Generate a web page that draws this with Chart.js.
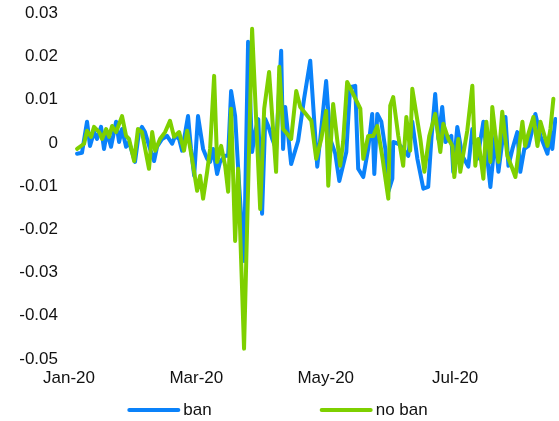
<!DOCTYPE html>
<html>
<head>
<meta charset="utf-8">
<script src="https://cdn.jsdelivr.net/npm/chart.js@4"></script>
<style>
  html, body { margin: 0; padding: 0; background: #fff; }
  #wrap { width: 559px; height: 421px; }
</style>
</head>
<body>
<div id="wrap"><canvas id="returns"></canvas></div>
<script>
// days since 1 Jan 2020
const banDays = [3.8, 6.1, 8.5, 9.9, 11.8, 13.2, 15.1, 16.5, 17.9, 19.8, 22.2, 23.6, 25.0, 26.9, 28.3, 31.1, 33.0, 34.4, 35.8, 38.2,
  40.1, 41.5, 43.9, 46.2, 48.6, 50.0, 51.9, 53.3, 56.1, 57.5, 59.0, 60.8, 63.2, 65.1, 66.5, 67.9, 69.8, 71.2, 73.6, 75.0,
  76.4, 78.3, 80.2, 82.5, 84.4, 86.3, 87.7, 89.2, 91.0, 92.5, 93.9, 95.8, 97.6, 100.0, 100.9, 101.9, 104.7, 108.0, 110.8, 113.7,
  117.0, 118.9, 121.2, 123.1, 125.5, 127.4, 130.7, 132.5, 134.9, 136.3, 138.7, 141.0, 142.9, 143.9, 145.3, 147.2, 149.1, 150.5, 152.4, 152.8,
  155.2, 157.5, 159.9, 161.8, 164.2, 167.0, 169.3, 170.8, 172.6, 174.1, 175.9, 177.4, 180.2, 181.1, 183.0, 185.4, 188.2, 190.1, 192.5, 195.3,
  198.6, 200.9, 202.4, 205.7, 207.1, 209.0, 211.3, 212.7, 214.6, 216.5, 217.9, 219.8, 222.2, 225.5, 226.9, 227.8, 229.2];
const banValues = [-0.0025, -0.0023, 0.0049, -0.0007, 0.0025, 0.0009, 0.0037, -0.0014, 0.0025, -0.0009, 0.0049, 0.0002, 0.0032, -0.0009, 0.0002, -0.0044, 0.0025, 0.0037, 0.0025, -0.0014,
  -0.0042, -0.0009, 0.0009, 0.0016, -0.0002, 0.0016, 0.0009, -0.0018, 0.0062, -0.0014, -0.0076, 0.0062, -0.0014, -0.0037, -0.0044, -0.0014, -0.0072, -0.0044, -0.0030, -0.0030,
  0.0120, 0.0062, -0.0099, -0.0273, 0.0234, -0.0021, 0.0025, 0.0055, -0.0164, 0.0055, 0.0039, 0.0009, -0.0014, 0.0213, -0.0014, 0.0083, -0.0049, 0.0005, 0.0102, 0.0190,
  -0.0055, 0.0032, 0.0143, 0.0009, -0.0025, -0.0088, -0.0021, 0.0129, 0.0132, -0.0060, -0.0079, -0.0014, 0.0067, -0.0072, 0.0067, 0.0049, -0.0014, -0.0113, -0.0083, 0.0002,
  -0.0002, -0.0014, -0.0030, 0.0049, -0.0037, -0.0106, -0.0102, 0.0009, 0.0113, 0.0009, 0.0083, 0.0002, 0.0016, -0.0067, 0.0037, -0.0030, -0.0055, 0.0032, -0.0037, 0.0049,
  -0.0102, 0.0016, -0.0067, 0.0060, -0.0053, -0.0014, 0.0025, -0.0067, -0.0014, -0.0007, 0.0021, 0.0067, 0.0016, -0.0025, 0.0025, -0.0014, 0.0055];

const noBanDays = [3.8, 7.1, 8.5, 10.4, 11.8, 14.2, 15.6, 17.5, 18.9, 20.3, 22.2, 25.0, 26.9, 28.3, 30.7, 32.5, 34.4, 37.7, 39.2, 40.6,
  42.9, 45.3, 47.6, 49.5, 51.9, 54.2, 55.7, 58.0, 60.4, 61.8, 63.2, 65.1, 66.5, 68.4, 69.8, 71.7, 73.6, 75.0, 76.4, 78.3,
  79.7, 82.5, 86.3, 88.2, 90.1, 92.0, 94.3, 97.6, 99.1, 100.9, 102.8, 104.7, 107.1, 109.0, 114.2, 116.5, 118.9, 121.2, 122.2, 124.5,
  127.8, 129.2, 131.1, 137.3, 138.7, 141.0, 143.4, 145.3, 147.6, 150.5, 151.4, 152.8, 155.2, 157.5, 159.0, 160.8, 161.8, 165.6, 167.5, 169.8,
  172.6, 175.0, 176.4, 178.8, 180.7, 181.6, 183.5, 184.4, 187.7, 190.1, 191.5, 192.9, 195.3, 196.7, 198.6, 199.5, 202.4, 204.2, 206.6, 209.0,
  210.4, 213.7, 215.0, 216.5, 218.9, 220.8, 222.2, 225.5, 226.9, 228.3];
const noBanValues = [-0.0014, -0.0002, 0.0028, 0.0014, 0.0037, 0.0025, 0.0009, 0.0032, 0.0014, 0.0039, 0.0025, 0.0062, 0.0016, 0.0009, -0.0042, 0.0032, 0.0025, -0.0060, 0.0025, -0.0018,
  0.0009, 0.0025, 0.0051, 0.0014, 0.0025, -0.0018, 0.0028, -0.0037, -0.0111, -0.0076, -0.0129, -0.0067, -0.0014, 0.0155, -0.0044, -0.0007, -0.0053, -0.0113, 0.0079, -0.0227,
  -0.0060, -0.0476, 0.0264, 0.0055, -0.0153, 0.0079, 0.0164, -0.0067, 0.0176, 0.0032, 0.0021, 0.0009, 0.0120, 0.0083, 0.0051, -0.0037, 0.0009, 0.0074, -0.0099, 0.0090,
  -0.0053, 0.0002, 0.0141, 0.0079, -0.0037, 0.0016, 0.0016, 0.0039, -0.0030, -0.0129, 0.0086, 0.0106, 0.0016, -0.0053, 0.0060, -0.0018, 0.0125, 0.0009, -0.0067, 0.0016,
  0.0067, -0.0021, 0.0044, 0.0009, -0.0007, -0.0079, 0.0009, -0.0067, 0.0028, 0.0132, -0.0053, 0.0009, -0.0083, 0.0049, -0.0044, 0.0083, -0.0044, 0.0072, -0.0030, -0.0060,
  -0.0079, 0.0049, -0.0007, 0.0021, 0.0060, -0.0007, 0.0049, -0.0007, 0.0032, 0.0102];

const tickDays = [0, 60, 121, 182];
const tickLabels = ["Jan-20", "Mar-20", "May-20", "Jul-20"];

const FONT = "'Liberation Sans', Arial, sans-serif";
Chart.defaults.font.family = FONT;
Chart.defaults.font.size = 17;
Chart.defaults.color = "#111";

const toPoints = (days, vals) => days.map((d, i) => ({ x: d, y: vals[i] }));

// legend drawn by hand: two short thick lines with wide space between them
const bottomLegend = {
  id: "bottomLegend",
  afterDraw(chart) {
    const ctx = chart.ctx;
    const sets = chart.data.datasets;
    const lineLen = 49, textGap = 5, itemGap = 110, y = 410;
    ctx.save();
    ctx.font = "17px " + FONT;
    const widths = sets.map((ds) => lineLen + textGap + ctx.measureText(ds.label).width);
    const total = widths.reduce((a, b) => a + b, 0) + itemGap * (sets.length - 1);
    let x = (chart.width - total) / 2 - 1;
    sets.forEach((ds, i) => {
      ctx.strokeStyle = ds.borderColor;
      ctx.lineWidth = 4;
      ctx.lineCap = "round";
      ctx.beginPath();
      ctx.moveTo(x, y);
      ctx.lineTo(x + lineLen, y);
      ctx.stroke();
      ctx.fillStyle = "#111";
      ctx.textBaseline = "middle";
      ctx.textAlign = "left";
      ctx.fillText(ds.label, x + lineLen + textGap, y);
      x += widths[i] + itemGap;
    });
    ctx.restore();
  },
};

new Chart(document.getElementById("returns"), {
  type: "line",
  data: {
    datasets: [
      {
        label: "ban",
        data: toPoints(banDays, banValues),
        borderColor: "#0A82FA",
        borderWidth: 4,
        order: 1,
      },
      {
        label: "no ban",
        data: toPoints(noBanDays, noBanValues),
        borderColor: "#7ED000",
        borderWidth: 4,
        order: 0,
      },
    ],
  },
  options: {
    responsive: true,
    maintainAspectRatio: false,
    animation: false,
    elements: {
      point: { radius: 0 },
      line: { tension: 0, borderJoinStyle: "round", borderCapStyle: "round" },
    },
    layout: { padding: { top: 13, right: 2, bottom: 32, left: 0 } },
    scales: {
      x: {
        type: "linear",
        min: 0,
        max: 230,
        grid: { display: false, drawTicks: false },
        border: { display: false },
        afterBuildTicks: (scale) => {
          scale.ticks = tickDays.map((d) => ({ value: d }));
        },
        afterFit: (scale) => {
          scale.height = 30;
        },
        ticks: {
          padding: 9,
          maxRotation: 0,
          autoSkip: false,
          callback: (value) => tickLabels[tickDays.indexOf(value)],
        },
      },
      y: {
        min: -0.05,
        max: 0.03,
        grid: { display: false, drawTicks: true, tickLength: 8 },
        border: { display: false },
        afterFit: (scale) => {
          scale.width = 69;
        },
        ticks: {
          stepSize: 0.01,
          padding: 3,
          callback: (value) => String(+value.toFixed(2)),
        },
      },
    },
    plugins: {
      legend: { display: false },
      tooltip: { enabled: false },
    },
  },
  plugins: [bottomLegend],
});
</script>
</body>
</html>
